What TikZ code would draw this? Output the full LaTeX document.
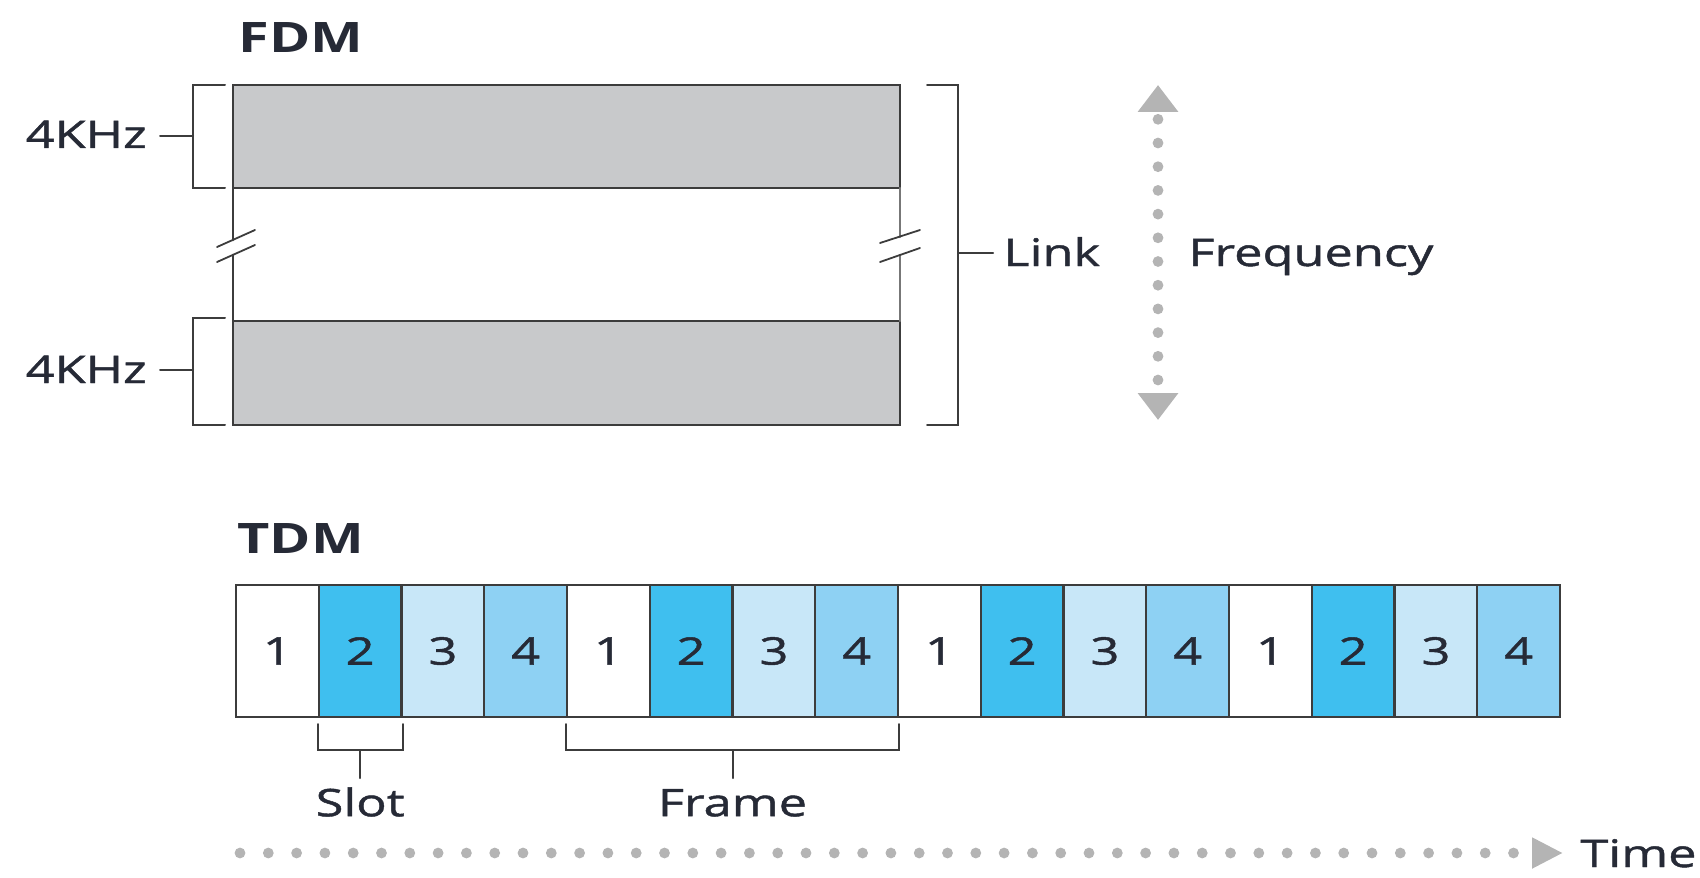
\documentclass[tikz,border=0pt]{standalone}
\usepackage{fontspec}
\setmainfont{Open Sans}[FakeStretch=1.33, UprightFeatures={FakeBold=1.2}]
\usetikzlibrary{calc,arrows.meta}

\definecolor{ink}{HTML}{262A36}
\definecolor{rule}{HTML}{3C3C3C}
\definecolor{band}{HTML}{C8C9CB}
\definecolor{dotgray}{HTML}{B4B4B4}
\definecolor{slot1}{HTML}{FFFFFF}
\definecolor{slot2}{HTML}{3FBFEF}
\definecolor{slot3}{HTML}{C8E7F8}
\definecolor{slot4}{HTML}{8ED1F3}

\begin{document}
\begin{tikzpicture}[x=0.5pt, y=-0.5pt, line cap=round, text=ink,
	font=\fontsize{19}{22}\selectfont,
	heading/.style={font=\fontsize{21}{24}\selectfont\bfseries, inner sep=0, anchor=base west},
	lbl/.style={inner sep=0},
	bracket/.style={draw=rule, line width=1pt},
	cell/.style={draw=rule, line width=1.2pt, minimum width=41.375pt, minimum height=66pt, inner sep=0},
	dots/.style={dotgray, line width=5.4pt, line cap=round}]
		\useasboundingbox (0,0) rectangle (1700,877);
		
		% Coordinates
		\coordinate (fa) at (233,85);
		\coordinate (fa') at (900,188);
		\coordinate (fb) at (233,321);
		\coordinate (fb') at (900,425);
		\coordinate (f1) at (1158,85);
		\coordinate (f2) at (1158,420);
		\coordinate (t1) at (240,853);
		\coordinate (t2) at (1563,853);
		
		% Bands
		\draw[rule, fill=band, line width=1.3pt] (fa) rectangle (fa');
		\draw[rule, fill=band, line width=1.3pt] (fb) rectangle (fb');
		
		% Lines (broken)
		\draw[rule, line width=1.3pt] (233,188) -- (233,240) (233,255) -- (233,321);
		\draw[rule!70, line width=1.1pt] (900,188) -- (900,237) (900,255) -- (900,321);
		\draw[rule, line width=0.9pt] (217,247) -- (255,230) (217,262) -- (255,245);
		\draw[rule, line width=0.9pt] (880,243) -- (920,230) (880,262) -- (920,248);
		
		% Brackets
		\draw[bracket] (225,85) -- (193,85) -- (193,188) -- (225,188);
		\draw[bracket] (193,136) -- (160,136);
		\draw[bracket] (225,318) -- (193,318) -- (193,425) -- (225,425);
		\draw[bracket] (193,370) -- (160,370);
		\draw[bracket] (927,85) -- (958,85) -- (958,425) -- (927,425);
		\draw[bracket] (958,253) -- (993,253);
		
		% Arrows
		\draw[dots, dash pattern=on 0pt off 11.85pt, dash phase=7.35pt,
			{Triangle[width=19.5pt,length=13.5pt]}-{Triangle[width=19.5pt,length=13.5pt]}] (f1) -- (f2);
		\draw[dots, dash pattern=on 0pt off 14.15pt, -{Triangle[width=14.5pt,length=15.5pt]}] (t1) -- (t2);
		
		% Nodes
		\node[heading] (fdm) at (238,53) {FDM};
		\node[lbl, anchor=base east] (khz1) at (147,148) {4KHz};
		\node[lbl, anchor=base east] (khz2) at (147,383) {4KHz};
		\node[lbl, anchor=base west] (link) at (1003,266) {Link};
		\node[lbl, anchor=base west] (freq) at (1188,266) {Frequency};
		%
		\node[heading] (tdm) at (237,553) {TDM};
		\foreach \i in {1,...,16}
		{
			\pgfmathtruncatemacro\ch{mod(\i-1,4)+1}
			\node[cell, fill=slot\ch] (s\i) at ({236+(\i-0.5)*82.75},651) {\ch};
		}
		\node[lbl, anchor=base west] (time) at (1580,867) {Time};
		
		% Slot and frame
		\coordinate (fr) at ($(s5.south west)!0.5!(s8.south east)$);
		\draw[bracket] ($(s2.south west)+(0,6)$) -- ++(0,26) -| ($(s2.south east)+(0,6)$);
		\draw[bracket] ($(s2.south)+(0,32)$) -- ++(0,28);
		\draw[bracket] ($(s5.south west)+(0,6)$) -- ++(0,26) -| ($(s8.south east)+(0,6)$);
		\draw[bracket] ($(fr)+(0,32)$) -- ++(0,28);
		\node[lbl, anchor=base] (slot) at ($(s2.south)+(0,98)$) {Slot};
		\node[lbl, anchor=base] (frame) at ($(fr)+(0,98)$) {Frame};
	\end{tikzpicture}
\end{document}
